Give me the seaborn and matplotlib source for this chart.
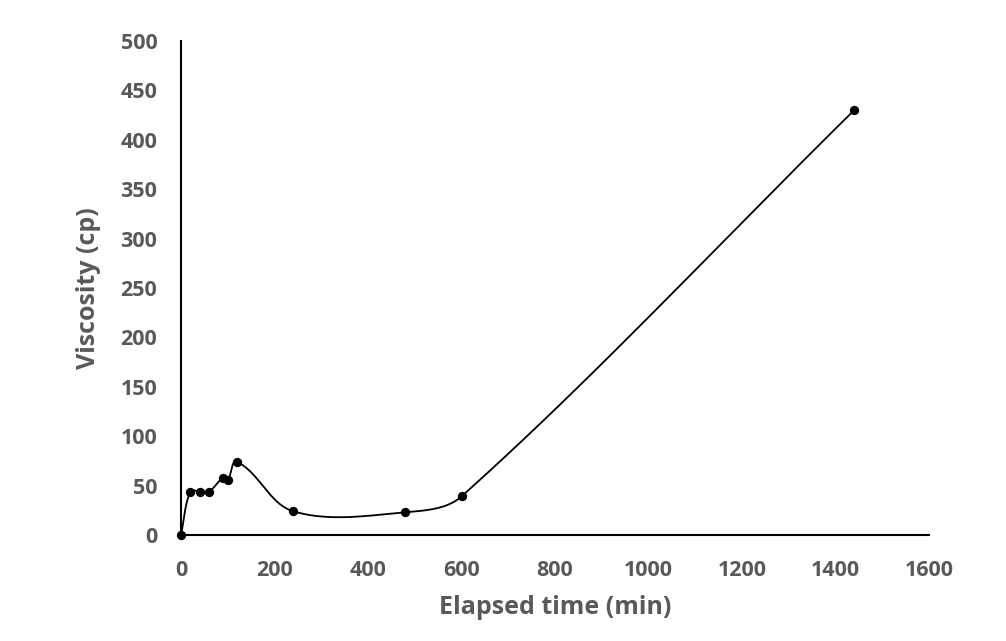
import numpy as np
import pandas as pd
import matplotlib
matplotlib.use("Agg")
import matplotlib.pyplot as plt
import seaborn as sns

# Data
elapsed_time = [0, 20, 40, 60, 90, 100, 120, 240, 480, 600, 1440]
viscosity = [0, 44, 44, 44, 58, 56, 74, 24, 23, 39, 430]
x_ticks = [0, 200, 400, 600, 800, 1000, 1200, 1400, 1600]
y_ticks = [0, 50, 100, 150, 200, 250, 300, 350, 400, 450, 500]
x_label = "Elapsed time (min)"
y_label = "Viscosity (cp)"

sns.set_style("white")
plt.rcParams['font.family'] = ['Open Sans', 'DejaVu Sans']

df = pd.DataFrame({"t": elapsed_time, "v": viscosity})

fig = plt.figure(figsize=(10.06, 6.41), dpi=100)
ax = fig.add_axes([181 / 1006, 1 - 535 / 641, (929 - 181) / 1006, (535 - 41) / 641])
ax.set_xlim(0, 1600)
ax.set_ylim(0, 500)


def smooth_curve(ax, xs, ys, n=60):
    """Excel-like smoothed line: cubic Bezier through the points, computed in
    display space with tangent lengths scaled to each segment."""
    P = ax.transData.transform(np.column_stack([xs, ys]).astype(float))
    m = len(P)
    tang = []
    for i in range(m):
        a = P[i - 1] if i > 0 else P[i]
        b = P[i + 1] if i + 1 < m else P[i]
        d = b - a
        nrm = np.hypot(*d)
        tang.append(d / nrm if nrm > 0 else d)
    out = []
    for i in range(m - 1):
        p1, p2 = P[i], P[i + 1]
        L = np.hypot(*(p2 - p1))
        c1 = p1 + tang[i] * L / 3.0
        c2 = p2 - tang[i + 1] * L / 3.0
        t = np.linspace(0, 1, n)[:, None]
        seg = ((1 - t) ** 3) * p1 + 3 * ((1 - t) ** 2) * t * c1 + 3 * (1 - t) * t ** 2 * c2 + t ** 3 * p2
        if i > 0:
            seg = seg[1:]
        out.append(seg)
    out = ax.transData.inverted().transform(np.vstack(out))
    return out[:, 0], out[:, 1]


sx, sy = smooth_curve(ax, df["t"].values, df["v"].values)
curve = pd.DataFrame({"t": sx, "v": sy})

sns.lineplot(data=curve, x="t", y="v", sort=False, estimator=None, color="black",
             linewidth=1.3, ax=ax)
sns.scatterplot(data=df, x="t", y="v", color="black", s=45, edgecolor="black",
                linewidth=0, ax=ax, zorder=5, clip_on=False)

ax.set_xlim(0, 1600)
ax.set_ylim(0, 500)
ax.set_xticks(x_ticks)
ax.set_yticks(y_ticks)
ax.set_xticklabels([str(v) for v in x_ticks])
ax.set_yticklabels([str(v) for v in y_ticks])

grey = "#595959"
ax.tick_params(axis="both", direction="in", length=8, width=1.5, color="black",
               labelsize=15.5, labelcolor=grey)
ax.tick_params(axis="x", pad=18)
ax.tick_params(axis="y", pad=17)
for lab in ax.get_xticklabels() + ax.get_yticklabels():
    lab.set_fontweight("bold")

for side in ["top", "right"]:
    ax.spines[side].set_visible(False)
for side in ["left", "bottom"]:
    ax.spines[side].set_color("black")
    ax.spines[side].set_linewidth(1.5)

ax.set_xlabel(x_label, fontsize=18, fontweight="bold", color=grey, labelpad=10)
ax.set_ylabel(y_label, fontsize=18, fontweight="bold", color=grey, labelpad=14)

fig.savefig("out.png", dpi=100)
